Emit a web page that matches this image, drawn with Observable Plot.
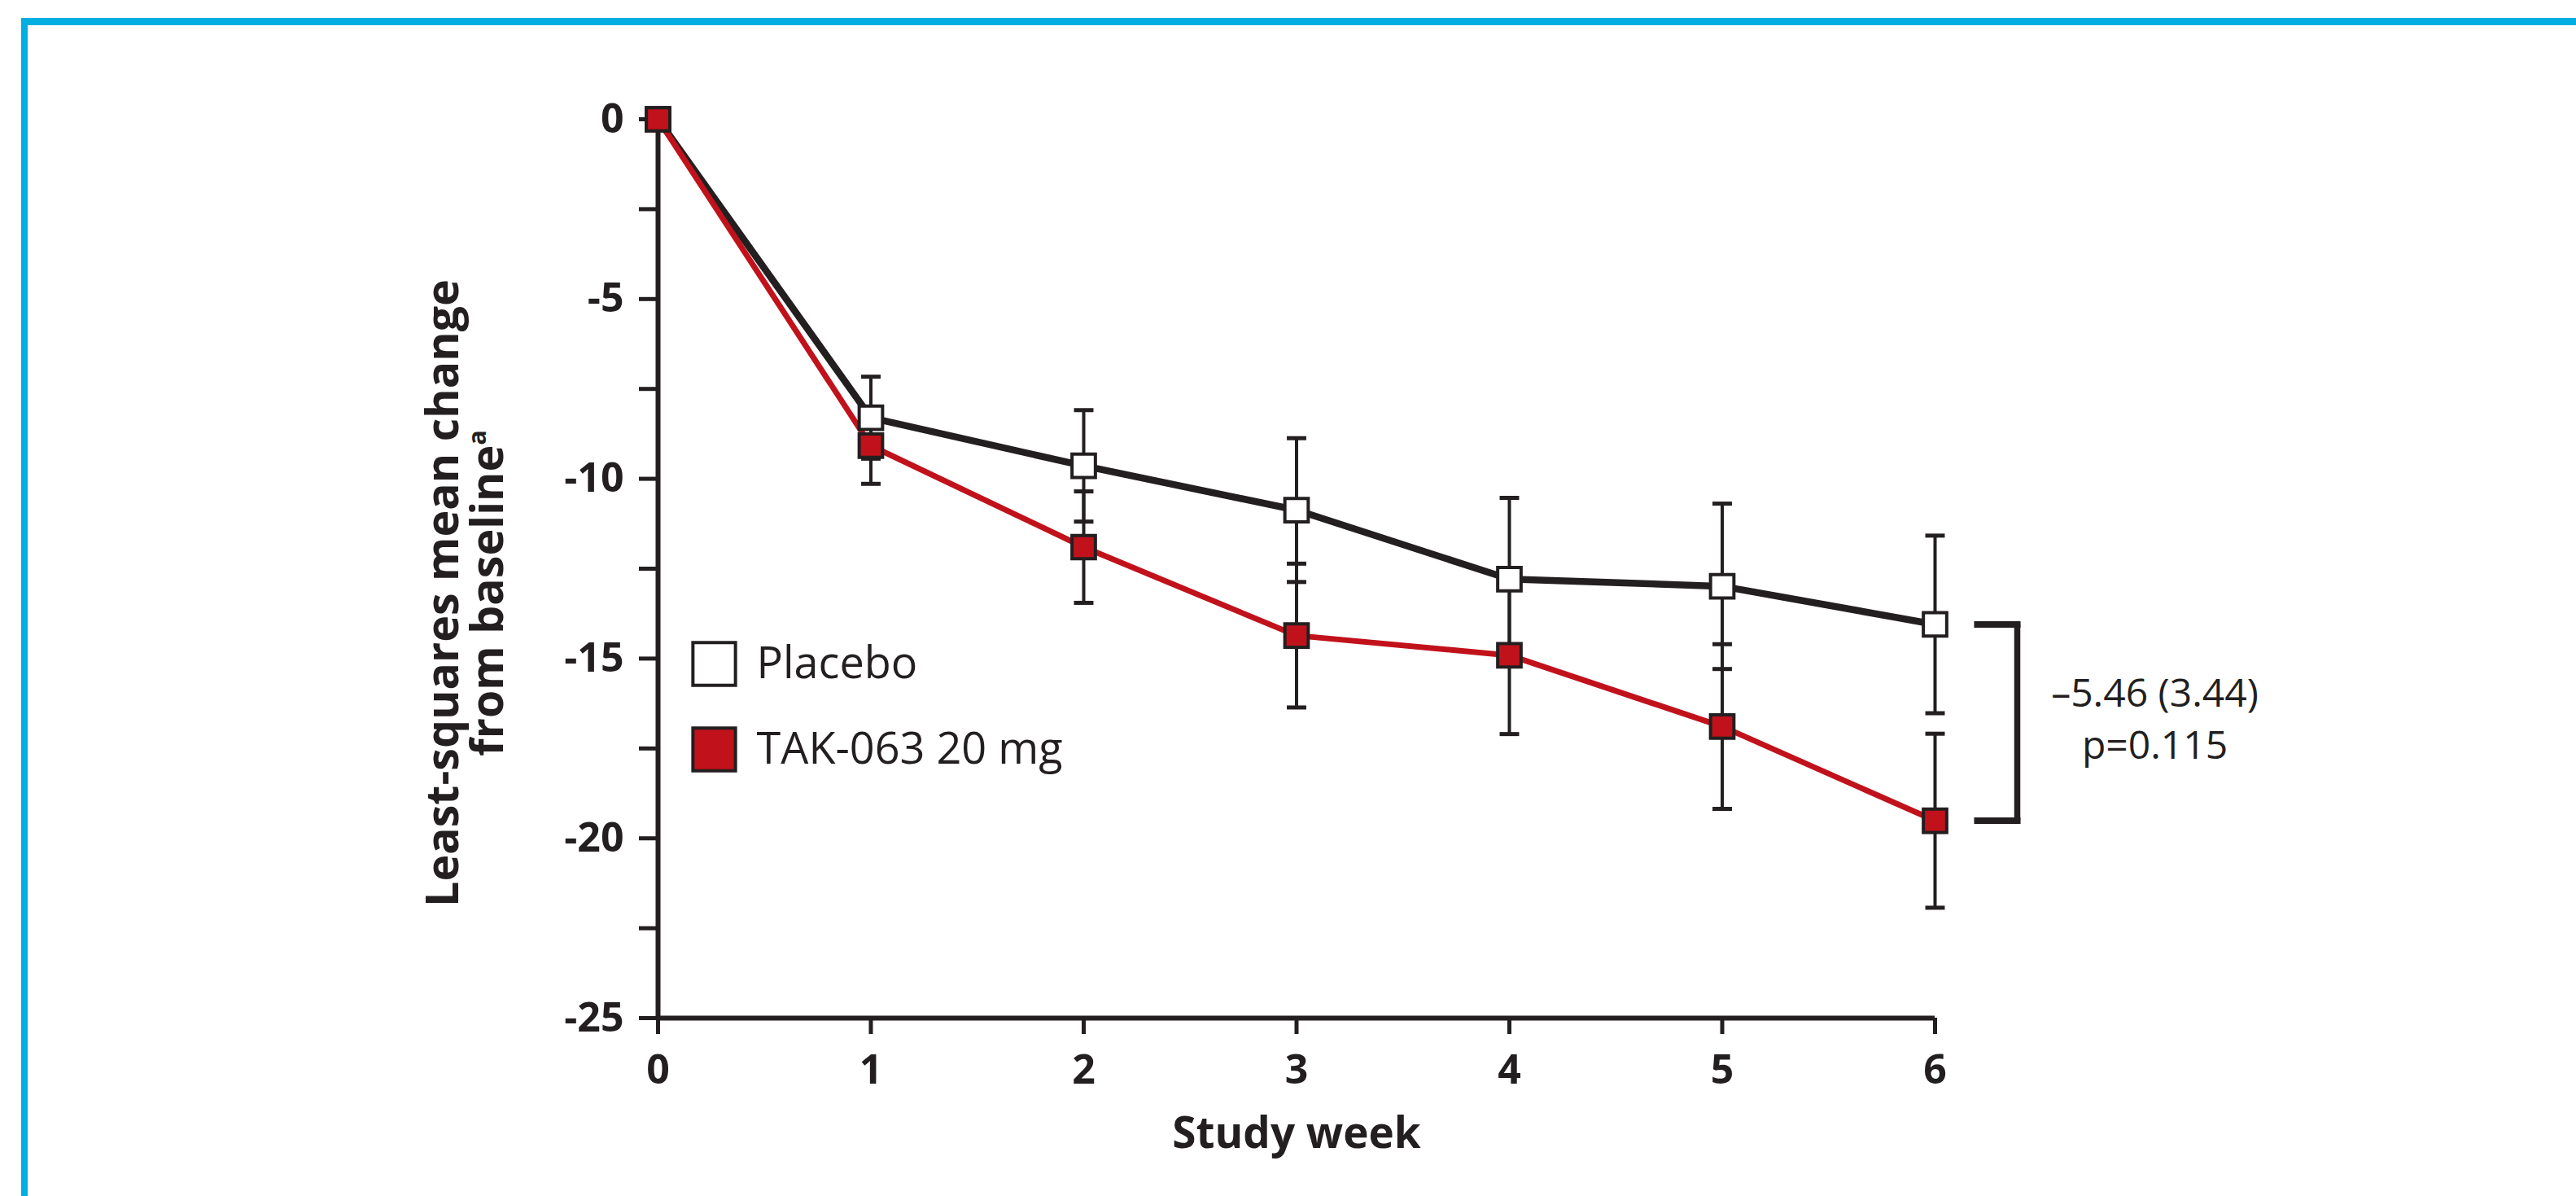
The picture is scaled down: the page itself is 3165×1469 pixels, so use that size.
<!DOCTYPE html>
<html><head><meta charset="utf-8">
<script src="https://cdn.jsdelivr.net/npm/d3@7"></script>
<script src="https://cdn.jsdelivr.net/npm/@observablehq/plot@0.6"></script>
<style>
html,body{margin:0;padding:0;background:#fff;}
#wrap{position:relative;width:3165px;height:1469px;overflow:hidden;background:#fff;}
#frame{position:absolute;left:26px;top:22px;right:-40px;bottom:-40px;border-top:9px solid #00AEE2;border-left:8px solid #00AEE2;pointer-events:none;z-index:2;}
#chart{position:absolute;left:0;top:0;}
</style></head><body><div id="wrap"><div id="chart"></div><div id="frame"></div></div>
<script>
// ---- data ----
const weeks = [0, 1, 2, 3, 4, 5, 6];
const placeboMean = [0, -8.30, -9.64, -10.87, -12.79, -12.99, -14.05];
const placeboSE   = [0, 1.14, 1.55, 2.00, 2.26, 2.30, 2.47];
const takMean     = [0, -9.08, -11.90, -14.36, -14.91, -16.89, -19.51];
const takSE       = [0, 1.06, 1.55, 2.00, 2.19, 2.29, 2.42];
const seriesNames = ["Placebo", "TAK-063 20 mg"];
const yTicks = [-25, -22.5, -20, -17.5, -15, -12.5, -10, -7.5, -5, -2.5, 0];
const yLabelTicks = [-25, -20, -15, -10, -5, 0];
const xTitle = "Study week";
const yTitleLines = ["Least-squares mean change", "from baseline"];
const yTitleSup = "a";
const diffText = "\u20135.46 (3.44)";
const pText = "p=0.115";

// ---- styles ----
const ink = "#231F20";
const red = "#C1121B";
const fills = ["#FFFFFF", red];
const lineColors = [ink, red];
const lineWidths = [8.5, 7];

const placebo = weeks.map((w, i) => ({week: w, mean: placeboMean[i], se: placeboSE[i], series: seriesNames[0]}));
const tak = weeks.map((w, i) => ({week: w, mean: takMean[i], se: takSE[i], series: seriesNames[1]}));
const groups = [placebo, tak];

const hline = {draw(ctx, size) { const w = Math.sqrt(size) / 2; ctx.moveTo(-w, 0); ctx.lineTo(w, 0); }};

const last = weeks.length - 1;
const bracketEnds = [{week: weeks[last], v: placeboMean[last]}, {week: weeks[last], v: takMean[last]}];

const marks = [];
// axes
marks.push(Plot.axisY({ticks: yTicks, tickFormat: d => yLabelTicks.includes(d) ? String(d) : "", tickSize: 23, tickPadding: 19,
  fontSize: 50, fontWeight: 700, strokeWidth: 5, label: null}));
marks.push(Plot.axisX({ticks: weeks, tickFormat: d => String(d), tickSize: 20, tickPadding: 25,
  fontSize: 50, fontWeight: 700, strokeWidth: 5, label: null}));
marks.push(Plot.ruleX([weeks[0]], {y1: d3.min(yTicks), y2: d3.max(yTicks), stroke: ink, strokeWidth: 6}));
marks.push(Plot.ruleY([d3.min(yTicks)], {x1: weeks[0], x2: weeks[last], stroke: ink, strokeWidth: 6}));
// lines
groups.forEach((g, i) => marks.push(Plot.line(g, {x: "week", y: "mean", stroke: lineColors[i], strokeWidth: lineWidths[i], strokeLinejoin: "miter"})));
// error bars
groups.forEach(g => {
  const e = g.filter(d => d.se > 0);
  marks.push(Plot.ruleX(e, {x: "week", y1: d => d.mean - d.se, y2: d => d.mean + d.se, stroke: ink, strokeWidth: 4}));
  marks.push(Plot.dot(e, {x: "week", y: d => d.mean - d.se, symbol: hline, r: 13.5, stroke: ink, strokeWidth: 5, fill: "none"}));
  marks.push(Plot.dot(e, {x: "week", y: d => d.mean + d.se, symbol: hline, r: 13.5, stroke: ink, strokeWidth: 5, fill: "none"}));
});
// markers
groups.forEach((g, i) => marks.push(Plot.dot(g, {x: "week", y: "mean", symbol: "square", r: 16.2, fill: fills[i], stroke: ink, strokeWidth: 4})));
// legend
seriesNames.forEach((name, i) => {
  const dy = 669 + i * 105;
  marks.push(Plot.dot([name], {frameAnchor: "top-left", dx: 69, dy, symbol: "square", r: 29.5, fill: fills[i], stroke: ink, strokeWidth: 4}));
  marks.push(Plot.text([name], {frameAnchor: "top-left", dx: 121, dy, text: d => d, textAnchor: "start", lineAnchor: "middle", fontSize: 54, fill: ink}));
});
// bracket
marks.push(Plot.dot(bracketEnds, {x: "week", y: "v", symbol: hline, r: 32.2, dx: 76.5, stroke: ink, strokeWidth: 8, fill: "none"}));
marks.push(Plot.ruleX([bracketEnds[0]], {x: "week", y1: bracketEnds[0].v, y2: bracketEnds[1].v, dx: 101, stroke: ink, strokeWidth: 7.5}));
marks.push(Plot.text([diffText + "\n" + pText], {x: () => weeks[last], y: () => (bracketEnds[0].v + bracketEnds[1].v) / 2, dx: 270, dy: -8,
  text: d => d, textAnchor: "middle", lineAnchor: "middle", lineHeight: 1.33, fontSize: 48, fill: ink}));
// titles
marks.push(Plot.text([xTitle], {frameAnchor: "bottom", dy: 122, text: d => d, lineAnchor: "top", fontSize: 53, fontWeight: 700, fill: ink}));
marks.push(Plot.text([yTitleLines.join("\n")], {frameAnchor: "left", dx: -236, dy: 30, rotate: -90, text: d => d, lineAnchor: "middle",
  textAnchor: "middle", lineHeight: 1.0, fontSize: 55.5, fontWeight: 700, fill: ink}));

const chart = Plot.plot({
  width: 3165, height: 1469,
  marginLeft: 808, marginRight: 788, marginTop: 146, marginBottom: 219,
  x: {domain: [weeks[0], weeks[last]]},
  y: {domain: [d3.min(yTicks), d3.max(yTicks)]},
  style: {fontFamily: "'Open Sans', sans-serif", color: ink, background: "transparent", maxWidth: "none"},
  marks
});
document.getElementById("chart").appendChild(chart);

// superscript on the y title
d3.select(chart).selectAll("tspan").filter(function() { return this.textContent === yTitleLines[1]; })
  .append("tspan").attr("dy", "-0.7em").attr("font-size", "55%").text(yTitleSup);
</script>
</body></html>
